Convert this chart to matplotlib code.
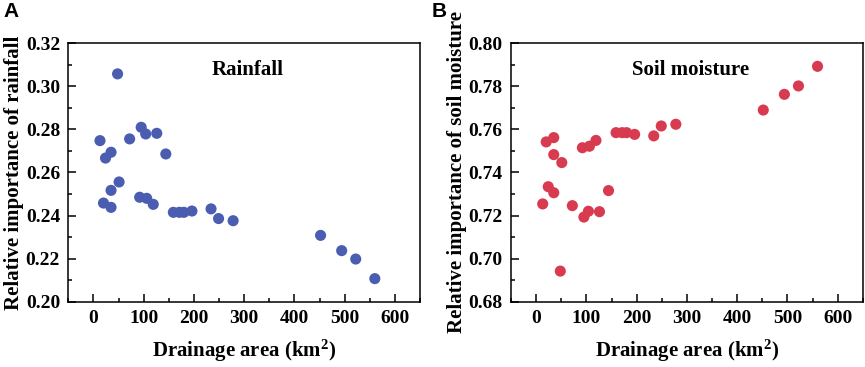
import matplotlib.pyplot as plt
from matplotlib.ticker import MultipleLocator

# Drainage area of each basin (km2), shared by both panels
area = [13, 20, 24, 35, 35, 35, 48, 51, 72, 92, 95, 104, 106, 119, 126, 144,
        159, 171, 180, 196, 234, 249, 278, 452, 494, 522, 560]

# Relative importance
rainfall = [0.2748, 0.2458, 0.2667, 0.2694, 0.2517, 0.2438, 0.3058, 0.2556,
            0.2756, 0.2485, 0.2810, 0.2779, 0.2480, 0.2452, 0.2782, 0.2686,
            0.2415, 0.2415, 0.2415, 0.2421, 0.2431, 0.2386, 0.2376, 0.2308,
            0.2237, 0.2198, 0.2107]
soil_moisture = [0.7254, 0.7542, 0.7334, 0.7306, 0.7483, 0.7562, 0.6942, 0.7446,
                 0.7246, 0.7515, 0.7193, 0.7220, 0.7522, 0.7549, 0.7218, 0.7316,
                 0.7585, 0.7585, 0.7585, 0.7577, 0.7570, 0.7616, 0.7624, 0.7690,
                 0.7763, 0.7802, 0.7893]

plt.rcParams['font.family'] = 'Liberation Serif'
plt.rcParams['font.weight'] = 'bold'
plt.rcParams['mathtext.fontset'] = 'custom'
plt.rcParams['mathtext.rm'] = 'Liberation Serif:bold'
plt.rcParams['mathtext.bf'] = 'Liberation Serif:bold'
plt.rcParams['mathtext.default'] = 'rm'

fig = plt.figure(figsize=(8.65, 3.67), dpi=100)
ax1 = fig.add_axes([0.079, 0.178, 0.4066, 0.704])
ax2 = fig.add_axes([0.5908, 0.178, 0.4066, 0.704])


def style_axis(ax, ylim, ylabel, label):
    ax.set_xlim(-50, 650)
    ax.set_ylim(*ylim)
    ax.xaxis.set_major_locator(MultipleLocator(100))
    ax.xaxis.set_minor_locator(MultipleLocator(50))
    ax.yaxis.set_major_locator(MultipleLocator(0.02))
    ax.yaxis.set_minor_locator(MultipleLocator(0.01))
    ax.yaxis.set_major_formatter(plt.FormatStrFormatter('%.2f'))
    ax.tick_params(which='both', direction='in', top=False, right=False,
                   labelsize=14, width=1.1)
    ax.tick_params(which='major', length=6, pad=6)
    ax.tick_params(which='minor', length=3)
    for s in ax.spines.values():
        s.set_linewidth(1.1)
    ax.set_xlabel('Drainage area (km$^{2}$)', fontsize=15,
                  fontweight='bold', labelpad=8)
    ax.set_ylabel(ylabel, fontsize=15, fontweight='bold', labelpad=1)
    ax.text(0.51, 0.895, label, transform=ax.transAxes, ha='center',
            va='center', fontsize=15, fontweight='bold')


ax1.scatter(area, rainfall, s=64, color='#4a5db1', edgecolors='none', zorder=3)
style_axis(ax1, (0.20, 0.32), 'Relative importance of rainfall', 'Rainfall')

ax2.scatter(area, soil_moisture, s=64, color='#d83a50', edgecolors='none', zorder=3)
style_axis(ax2, (0.68, 0.80), 'Relative importance of soil moisture', 'Soil moisture')

fig.text(0.004, 0.995, 'A', ha='left', va='top', fontsize=15,
         fontweight='bold', family='Liberation Sans')
fig.text(0.499, 0.995, 'B', ha='left', va='top', fontsize=15,
         fontweight='bold', family='Liberation Sans')

fig.savefig('out.png', dpi=100)
